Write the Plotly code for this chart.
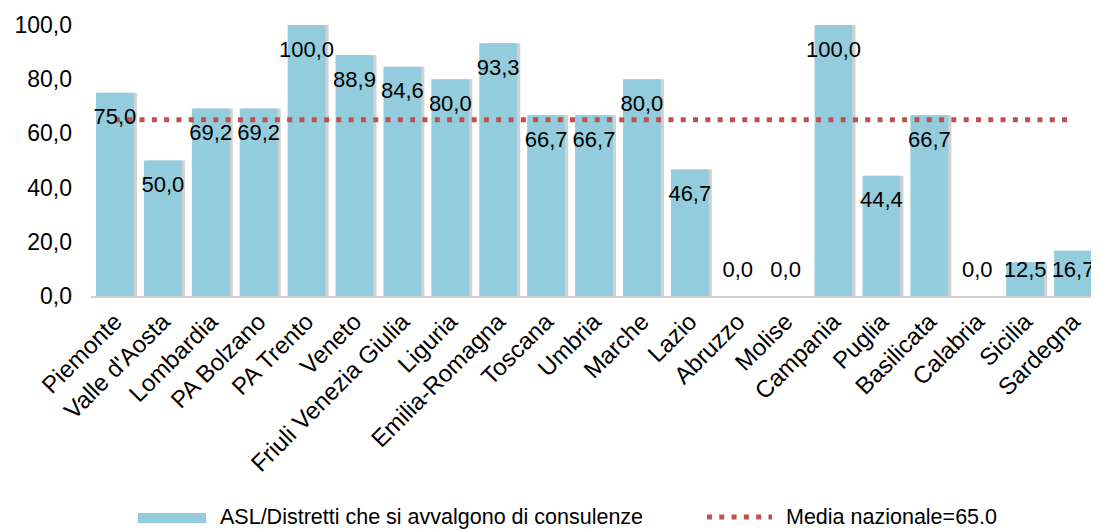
import plotly.graph_objects as go

regions = ['Piemonte', "Valle d'Aosta", 'Lombardia', 'PA Bolzano', 'PA Trento', 'Veneto',
           'Friuli Venezia Giulia', 'Liguria', 'Emilia-Romagna', 'Toscana', 'Umbria', 'Marche',
           'Lazio', 'Abruzzo', 'Molise', 'Campania', 'Puglia', 'Basilicata', 'Calabria',
           'Sicilia', 'Sardegna']
values = [75.0, 50.0, 69.2, 69.2, 100.0, 88.9, 84.6, 80.0, 93.3, 66.7, 66.7, 80.0,
          46.7, 0.0, 0.0, 100.0, 44.4, 66.7, 0.0, 12.5, 16.7]
national_mean = 65.0

FONT = 'Liberation Sans, Arial, sans-serif'
BAR = '#93CDDD'
RED = '#C0504D'

# label sits a little below the bar top, but never below the baseline area
label_y = [max(v - 9.6, 8.9) for v in values]
labels = [f'{v:.1f}'.replace('.', ',') for v in values]

fig = go.Figure()

# soft shadow on the right of each bar
fig.add_trace(go.Bar(
    x=regions, y=values, width=0.79, offset=-0.33,
    marker_color='rgba(0,0,0,0.18)', marker_line_width=0,
    hoverinfo='skip', showlegend=False,
))
fig.add_trace(go.Bar(
    x=regions, y=values, width=0.79, offset=-0.395,
    marker_color=BAR, marker_line_width=0,
    name='ASL/Distretti che si avvalgono di consulenze', showlegend=False,
))
fig.add_trace(go.Scatter(
    x=regions, y=[national_mean] * len(regions), mode='lines',
    line=dict(color=RED, width=5, dash='5px,7.3px'),
    name='Media nazionale=65.0', showlegend=False,
))
fig.add_trace(go.Scatter(
    x=regions, y=label_y, mode='text', text=labels, cliponaxis=False,
    textfont=dict(family=FONT, size=22, color='black'),
    hoverinfo='skip', showlegend=False,
))

# legend drawn by hand (wide swatch like the original)
fig.add_shape(type='rect', xref='paper', yref='paper',
              x0=0.0467, x1=0.1143, y0=-0.8376, y1=-0.8007,
              fillcolor=BAR, line_width=0)
fig.add_annotation(xref='paper', yref='paper', x=0.1262, y=-0.8155,
                   xanchor='left', yanchor='middle', showarrow=False,
                   text='ASL/Distretti che si avvalgono di consulenze',
                   font=dict(family=FONT, size=21.5, color='black'))
fig.add_shape(type='line', xref='paper', yref='paper',
              x0=0.6123, x1=0.677, y0=-0.8155, y1=-0.8155,
              line=dict(color=RED, width=5, dash='5px,7.3px'))
fig.add_annotation(xref='paper', yref='paper', x=0.6889, y=-0.8155,
                   xanchor='left', yanchor='middle', showarrow=False,
                   text='Media nazionale=65.0',
                   font=dict(family=FONT, size=21.5, color='black'))

# the page body has an 8px margin, so the figure is sized/offset to compensate
fig.update_layout(
    width=1091, height=521,
    margin=dict(l=83, r=2, t=17, b=233),
    plot_bgcolor='white', paper_bgcolor='white',
    barmode='overlay',
    separators=',.',
    font=dict(family=FONT, color='black'),
    xaxis=dict(
        tickangle=-45, tickfont=dict(size=24), automargin=False,
        showline=True, linecolor='#D0D0D0', linewidth=2,
        showgrid=False, ticks='', range=[-0.5, len(regions) - 0.5],
    ),
    yaxis=dict(
        range=[0, 100], tickvals=[0, 20, 40, 60, 80, 100], tickformat='.1f',
        tickfont=dict(size=23), showgrid=False, zeroline=False, automargin=False,
        showline=False, ticks='', ticklabelstandoff=18,
    ),
)

fig.write_html('out.html')
